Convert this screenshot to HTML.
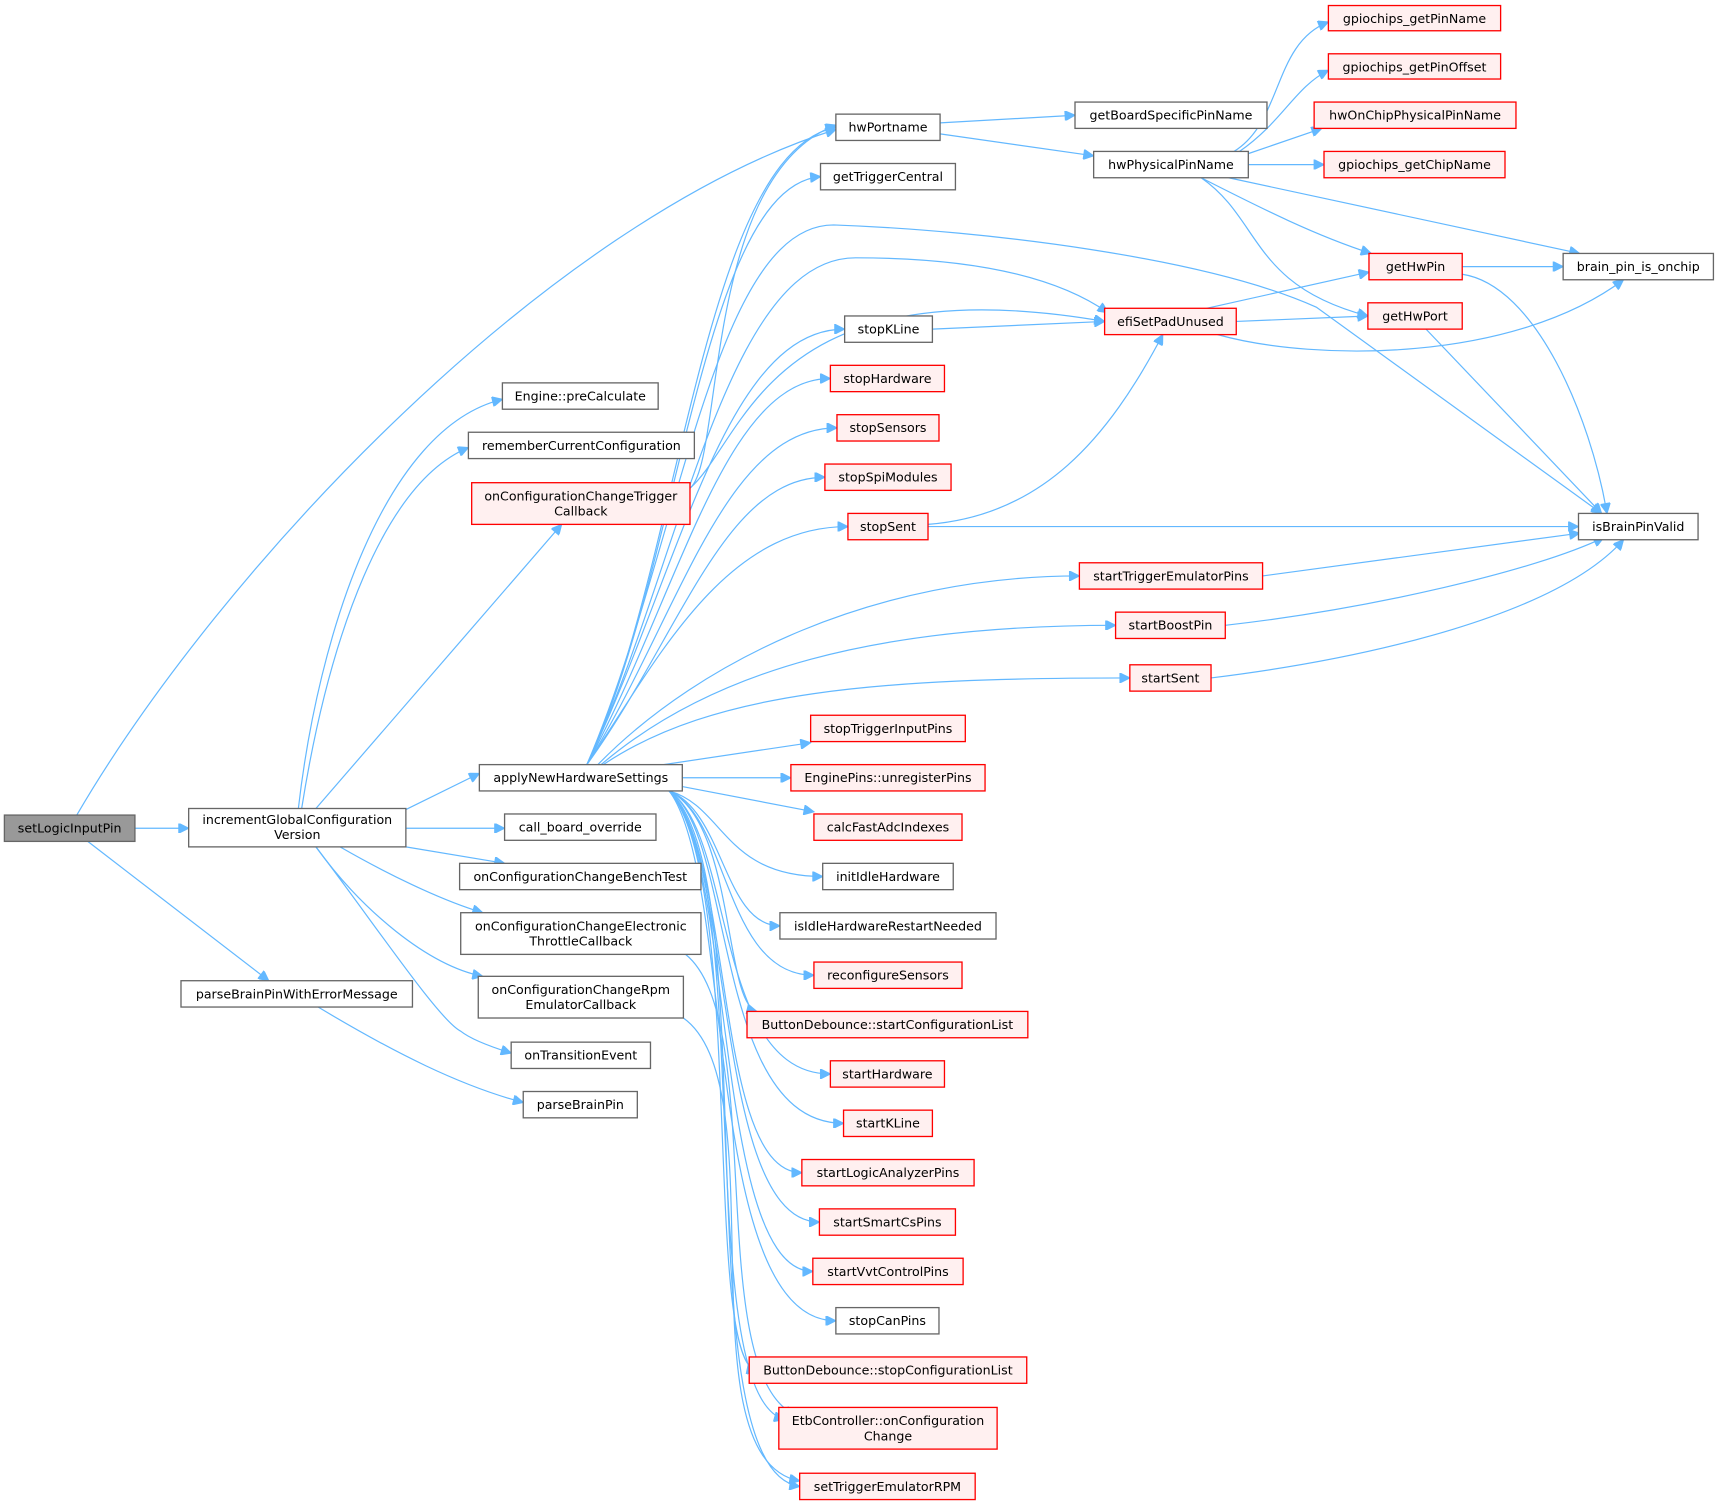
<!DOCTYPE html>
<html><head><meta charset="utf-8"><style>
html,body{margin:0;padding:0;background:#fff;}
svg{display:block;}
text{font-family:"DejaVu Sans","Liberation Sans",sans-serif;font-size:11.5px;fill:#000;}
.n{fill:#fff;stroke:#666;stroke-width:1.2;}
.r{fill:#fff0f0;stroke:#f00;stroke-width:1.2;}
.g{fill:#999;stroke:#666;stroke-width:1.2;}
path{fill:none;stroke:#63b8ff;stroke-width:1.1;}
</style></head><body>
<svg width="1720" height="1504" viewBox="0 0 1568 1371" xmlns="http://www.w3.org/2000/svg">
<defs><marker id="a" viewBox="0 0 10 10" refX="10" refY="5" markerWidth="11" markerHeight="9" markerUnits="userSpaceOnUse" orient="auto"><path d="M0,0 L10,5 L0,10 z" style="fill:#63b8ff;stroke:#63b8ff"/></marker></defs>
<g marker-end="url(#a)">
<path d="M70,743 C200,520 500,200 762,118"/>
<path d="M123,755 L172,755"/>
<path d="M80,767 L245,894"/>
<path d="M272,737 C290,580 350,390 458,364"/>
<path d="M275,737 C300,580 350,440 427,408"/>
<path d="M288,737 L512,478"/>
<path d="M370,738 L437,705"/>
<path d="M370,755 L460,755"/>
<path d="M370,772 L460,787"/>
<path d="M310,772 C350,795 400,820 440,832"/>
<path d="M288,772 C330,830 390,880 440,890"/>
<path d="M288,772 C340,840 400,930 420,940 C430,948 450,955 466,960"/>
<path d="M290,918 C360,960 420,990 477,1005"/>
<path d="M535,697 C620,520 640,140 762,116"/>
<path d="M535,697 C620,520 640,170 748,161"/>
<path d="M535,697 C620,500 650,205 760,205 C900,210 1100,235 1200,280 L1460,468"/>
<path d="M535,697 C620,520 660,235 780,235 C880,235 960,250 1010,285"/>
<path d="M535,697 C620,520 660,300 770,300"/>
<path d="M535,697 C620,540 660,345 757,345"/>
<path d="M535,697 C620,560 660,390 763,390"/>
<path d="M535,697 C620,580 660,435 752,435"/>
<path d="M535,697 C600,600 660,480 773,480"/>
<path d="M545,697 C640,600 800,525 984,525"/>
<path d="M548,697 C650,610 800,570 1017,570"/>
<path d="M550,697 C650,630 800,618 1030,618"/>
<path d="M605,697 L739,677"/>
<path d="M622,709 L721,709"/>
<path d="M622,717 L742,740"/>
<path d="M610,721 C660,735 660,799 750,799"/>
<path d="M610,721 C660,740 660,844 711,844"/>
<path d="M610,721 C665,745 660,889 742,889"/>
<path d="M610,721 C670,750 660,915 690,922"/>
<path d="M610,721 C670,760 650,979 757,979"/>
<path d="M610,721 C670,760 650,1024 769,1024"/>
<path d="M610,721 C670,780 650,1069 731,1069"/>
<path d="M610,721 C670,780 650,1114 747,1114"/>
<path d="M610,721 C670,780 650,1159 741,1159"/>
<path d="M610,721 C670,800 640,1204 762,1204"/>
<path d="M610,721 C680,800 640,1240 690,1250"/>
<path d="M610,721 C690,800 630,1270 715,1294"/>
<path d="M610,721 C700,800 620,1340 729,1355"/>
<path d="M629,445 C660,420 640,160 762,114"/>
<path d="M629,445 C680,400 700,240 1007,293"/>
<path d="M625,870 C700,930 640,1250 725,1290"/>
<path d="M623,928 C710,990 620,1330 729,1350"/>
<path d="M857,112 L980,105"/>
<path d="M857,122 L997,142"/>
<path d="M1125,138 C1170,110 1160,40 1211,20"/>
<path d="M1130,138 C1170,110 1180,80 1211,64"/>
<path d="M1138,140 L1205,117"/>
<path d="M1138,150 L1207,150"/>
<path d="M1120,162 L1440,231"/>
<path d="M1095,162 C1150,190 1200,215 1250,231"/>
<path d="M1095,162 C1150,200 1140,260 1247,288"/>
<path d="M1333,243 L1425,243"/>
<path d="M1333,250 C1400,260 1450,380 1465,468"/>
<path d="M1300,300 L1460,468"/>
<path d="M1100,281 L1248,248"/>
<path d="M1127,293 L1247,288"/>
<path d="M1110,305 C1200,330 1380,330 1480,255"/>
<path d="M850,300 L1007,293"/>
<path d="M846,478 C950,470 1010,400 1060,305"/>
<path d="M846,480 L1439,480"/>
<path d="M1151,525 L1440,486"/>
<path d="M1117,570 C1250,555 1400,520 1462,490"/>
<path d="M1104,618 C1250,600 1420,560 1480,492"/>
</g>
<g>
<rect class="g" x="4" y="743" width="119" height="24"/><text x="63.5" y="759" text-anchor="middle">setLogicInputPin</text>
<rect class="n" x="172" y="737" width="198" height="35"/><text x="271" y="751" text-anchor="middle">incrementGlobalConfiguration</text><text x="271" y="765" text-anchor="middle">Version</text>
<rect class="n" x="165" y="894" width="211" height="24"/><text x="270.5" y="910" text-anchor="middle">parseBrainPinWithErrorMessage</text>
<rect class="n" x="458" y="349" width="142" height="24"/><text x="529" y="365" text-anchor="middle">Engine::preCalculate</text>
<rect class="n" x="427" y="394" width="206" height="24"/><text x="530" y="410" text-anchor="middle">rememberCurrentConfiguration</text>
<rect class="r" x="430" y="440" width="199" height="38"/><text x="529.5" y="456" text-anchor="middle">onConfigurationChangeTrigger</text><text x="529.5" y="470" text-anchor="middle">Callback</text>
<rect class="n" x="437" y="697" width="185" height="24"/><text x="529.5" y="713" text-anchor="middle">applyNewHardwareSettings</text>
<rect class="n" x="460" y="742" width="138" height="24"/><text x="529" y="758" text-anchor="middle">call_board_override</text>
<rect class="n" x="419" y="787" width="220" height="24"/><text x="529" y="803" text-anchor="middle">onConfigurationChangeBenchTest</text>
<rect class="n" x="420" y="832" width="219" height="38"/><text x="529.5" y="848" text-anchor="middle">onConfigurationChangeElectronic</text><text x="529.5" y="862" text-anchor="middle">ThrottleCallback</text>
<rect class="n" x="436" y="890" width="187" height="38"/><text x="529.5" y="906" text-anchor="middle">onConfigurationChangeRpm</text><text x="529.5" y="920" text-anchor="middle">EmulatorCallback</text>
<rect class="n" x="466" y="950" width="127" height="24"/><text x="529.5" y="966" text-anchor="middle">onTransitionEvent</text>
<rect class="n" x="477" y="995" width="104" height="24"/><text x="529" y="1011" text-anchor="middle">parseBrainPin</text>
<rect class="n" x="762" y="104" width="95" height="24"/><text x="809.5" y="120" text-anchor="middle">hwPortname</text>
<rect class="n" x="748" y="149" width="123" height="24"/><text x="809.5" y="165" text-anchor="middle">getTriggerCentral</text>
<rect class="n" x="770" y="288" width="80" height="24"/><text x="810" y="304" text-anchor="middle">stopKLine</text>
<rect class="r" x="757" y="333" width="104" height="24"/><text x="809" y="349" text-anchor="middle">stopHardware</text>
<rect class="r" x="763" y="378" width="93" height="24"/><text x="809.5" y="394" text-anchor="middle">stopSensors</text>
<rect class="r" x="752" y="423" width="115" height="24"/><text x="809.5" y="439" text-anchor="middle">stopSpiModules</text>
<rect class="r" x="773" y="468" width="73" height="24"/><text x="809.5" y="484" text-anchor="middle">stopSent</text>
<rect class="r" x="984" y="513" width="167" height="24"/><text x="1067.5" y="529" text-anchor="middle">startTriggerEmulatorPins</text>
<rect class="r" x="1017" y="558" width="100" height="24"/><text x="1067" y="574" text-anchor="middle">startBoostPin</text>
<rect class="r" x="1030" y="606" width="74" height="24"/><text x="1067" y="622" text-anchor="middle">startSent</text>
<rect class="r" x="739" y="652" width="141" height="24"/><text x="809.5" y="668" text-anchor="middle">stopTriggerInputPins</text>
<rect class="r" x="721" y="697" width="177" height="24"/><text x="809.5" y="713" text-anchor="middle">EnginePins::unregisterPins</text>
<rect class="r" x="742" y="742" width="135" height="24"/><text x="809.5" y="758" text-anchor="middle">calcFastAdcIndexes</text>
<rect class="n" x="750" y="787" width="119" height="24"/><text x="809.5" y="803" text-anchor="middle">initIdleHardware</text>
<rect class="n" x="711" y="832" width="197" height="24"/><text x="809.5" y="848" text-anchor="middle">isIdleHardwareRestartNeeded</text>
<rect class="r" x="742" y="877" width="135" height="24"/><text x="809.5" y="893" text-anchor="middle">reconfigureSensors</text>
<rect class="r" x="681" y="922" width="256" height="24"/><text x="809" y="938" text-anchor="middle">ButtonDebounce::startConfigurationList</text>
<rect class="r" x="757" y="967" width="104" height="24"/><text x="809" y="983" text-anchor="middle">startHardware</text>
<rect class="r" x="769" y="1012" width="81" height="24"/><text x="809.5" y="1028" text-anchor="middle">startKLine</text>
<rect class="r" x="731" y="1057" width="157" height="24"/><text x="809.5" y="1073" text-anchor="middle">startLogicAnalyzerPins</text>
<rect class="r" x="747" y="1102" width="124" height="24"/><text x="809" y="1118" text-anchor="middle">startSmartCsPins</text>
<rect class="r" x="741" y="1147" width="137" height="24"/><text x="809.5" y="1163" text-anchor="middle">startVvtControlPins</text>
<rect class="n" x="762" y="1192" width="94" height="24"/><text x="809" y="1208" text-anchor="middle">stopCanPins</text>
<rect class="r" x="683" y="1237" width="253" height="24"/><text x="809.5" y="1253" text-anchor="middle">ButtonDebounce::stopConfigurationList</text>
<rect class="r" x="710" y="1283" width="199" height="38"/><text x="809.5" y="1299" text-anchor="middle">EtbController::onConfiguration</text><text x="809.5" y="1313" text-anchor="middle">Change</text>
<rect class="r" x="729" y="1343" width="160" height="24"/><text x="809" y="1359" text-anchor="middle">setTriggerEmulatorRPM</text>
<rect class="n" x="980" y="93" width="175" height="24"/><text x="1067.5" y="109" text-anchor="middle">getBoardSpecificPinName</text>
<rect class="n" x="997" y="138" width="141" height="24"/><text x="1067.5" y="154" text-anchor="middle">hwPhysicalPinName</text>
<rect class="r" x="1007" y="281" width="120" height="24"/><text x="1067" y="297" text-anchor="middle">efiSetPadUnused</text>
<rect class="r" x="1211" y="5" width="157" height="23"/><text x="1289.5" y="21" text-anchor="middle">gpiochips_getPinName</text>
<rect class="r" x="1211" y="49" width="157" height="23"/><text x="1289.5" y="65" text-anchor="middle">gpiochips_getPinOffset</text>
<rect class="r" x="1198" y="93" width="184" height="24"/><text x="1290" y="109" text-anchor="middle">hwOnChipPhysicalPinName</text>
<rect class="r" x="1207" y="138" width="165" height="24"/><text x="1289.5" y="154" text-anchor="middle">gpiochips_getChipName</text>
<rect class="r" x="1248" y="231" width="85" height="24"/><text x="1290.5" y="247" text-anchor="middle">getHwPin</text>
<rect class="r" x="1247" y="276" width="86" height="24"/><text x="1290" y="292" text-anchor="middle">getHwPort</text>
<rect class="n" x="1425" y="231" width="137" height="24"/><text x="1493.5" y="247" text-anchor="middle">brain_pin_is_onchip</text>
<rect class="n" x="1439" y="468" width="109" height="24"/><text x="1493.5" y="484" text-anchor="middle">isBrainPinValid</text>
</g>
</svg>
</body></html>
